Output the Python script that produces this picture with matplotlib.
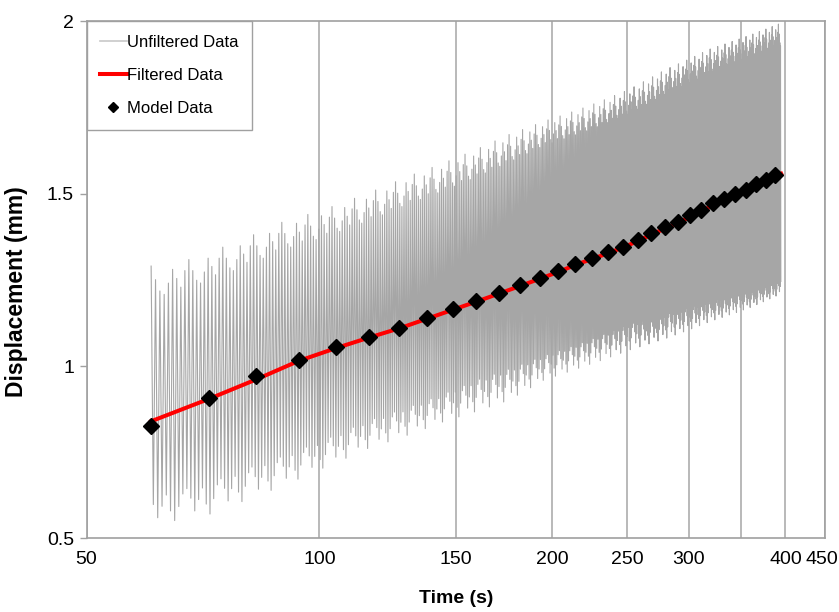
import numpy as np
import matplotlib
matplotlib.use("Agg")
import matplotlib.pyplot as plt
from matplotlib.transforms import ScaledTranslation

FONT = ["Liberation Sans", "DejaVu Sans"]

# raw trace: peak / trough levels of the oscillation over time
env_t = [61, 66, 72, 80, 90, 100, 115, 130, 145, 160, 175, 195, 220, 250, 280, 320, 360, 395]
peak_max = [1.29, 1.30, 1.33, 1.37, 1.42, 1.45, 1.50, 1.55, 1.59, 1.63, 1.67, 1.71, 1.75, 1.80, 1.86, 1.92, 1.96, 1.995]
peak_core = [1.20, 1.22, 1.25, 1.29, 1.34, 1.37, 1.42, 1.47, 1.51, 1.55, 1.59, 1.64, 1.68, 1.73, 1.79, 1.85, 1.89, 1.93]
trough_min = [0.54, 0.555, 0.57, 0.61, 0.655, 0.70, 0.76, 0.80, 0.84, 0.87, 0.90, 0.96, 1.00, 1.045, 1.08, 1.13, 1.17, 1.21]
trough_core = [0.63, 0.64, 0.66, 0.70, 0.74, 0.78, 0.84, 0.88, 0.92, 0.96, 0.99, 1.03, 1.07, 1.12, 1.15, 1.19, 1.22, 1.25]
cycle_s = 0.8
raw_start, raw_end = 60.6, 395.0
# relative reach of successive cycles between core and extreme level
reach = [1.0, 0.55, 0.15, 0.0, 0.35, 0.8, 0.45, 0.1, 0.65]

# filtered displacement
filt_t = [60.6, 72, 83, 94, 105, 116, 127, 138, 149, 160, 171, 182, 193, 204, 215, 226,
          237, 248, 259, 270, 281, 292, 303, 314, 325, 336, 347, 358, 369, 380, 395]
filt_d = [0.840, 0.905, 0.962, 1.015, 1.052, 1.083, 1.110, 1.138, 1.164, 1.188, 1.211,
          1.233, 1.254, 1.274, 1.295, 1.312, 1.329, 1.346, 1.365, 1.384, 1.401, 1.418,
          1.436, 1.453, 1.470, 1.484, 1.497, 1.511, 1.526, 1.540, 1.558]

# model prediction
model_t = [60.6, 71.9, 82.8, 94.0, 104.9, 115.8, 126.7, 137.7, 148.7, 159.3, 170.6, 181.4,
           192.5, 203.1, 214.2, 225.3, 236.0, 247.0, 257.7, 268.1, 279.4, 290.4, 301.0,
           311.6, 322.6, 332.9, 343.9, 355.4, 366.5, 377.5, 388.1]
model_d = [0.825, 0.907, 0.971, 1.017, 1.056, 1.085, 1.111, 1.140, 1.166, 1.190, 1.213,
           1.235, 1.256, 1.275, 1.297, 1.314, 1.330, 1.346, 1.365, 1.385, 1.402, 1.419,
           1.437, 1.454, 1.472, 1.485, 1.498, 1.511, 1.527, 1.540, 1.555]

xticks = [50, 100, 150, 200, 250, 300, 350, 400, 450]
xlabels = ["50", "100", "150", "200", "250", "300", "", "400", "450"]
yticks = [0.5, 1.0, 1.5, 2.0]
ylabels = ["0.5", "1", "1.5", "2"]

# build the zig-zag trace from the peak/trough levels
half_t = np.arange(raw_start, raw_end, cycle_s / 2)
k = np.arange(len(half_t))
cyc = k // 2
r_hi = np.array(reach)[cyc % len(reach)]
r_lo = np.array(reach)[(cyc + 4) % len(reach)]
hc = np.interp(half_t, env_t, peak_core)
lc = np.interp(half_t, env_t, trough_core)
hi = hc + r_hi * (np.interp(half_t, env_t, peak_max) - hc)
lo = lc - r_lo * (lc - np.interp(half_t, env_t, trough_min))
raw_d = np.where(k % 2 == 0, hi, lo)

fig = plt.figure(figsize=(8.39, 6.12), dpi=100)
ax = fig.add_axes([0.1031, 0.1201, 0.8802, 0.8451])

ax.plot(half_t, raw_d, color="#a6a6a6", lw=0.8, label="Unfiltered Data", zorder=2)
ax.plot(filt_t, filt_d, color="#ff0000", lw=2.9, label="Filtered Data", zorder=3)
ax.plot(model_t, model_d, ls="none", marker="D", ms=8.5, color="black", label="Model Data", zorder=4)

ax.set_xscale("log")
ax.set_xlim(50, 450)
ax.set_ylim(0.5, 2.0)
ax.xaxis.set_major_locator(plt.FixedLocator(xticks))
ax.xaxis.set_minor_locator(plt.NullLocator())
ax.set_xticklabels(xlabels)
ax.set_yticks(yticks)
ax.set_yticklabels(ylabels)
ax.grid(axis="x", color="#a6a6a6", lw=1.1)
ax.set_axisbelow(True)

for s in ax.spines.values():
    s.set_color("#a0a0a0")
    s.set_linewidth(1.2)
ax.tick_params(axis="x", length=0, pad=9)
ax.tick_params(axis="y", length=5, width=1, color="#a0a0a0", pad=4)
for lab in ax.get_xticklabels() + ax.get_yticklabels():
    lab.set_family(FONT)
    lab.set_fontsize(14)
# keep the last x label inside the canvas
last = ax.get_xticklabels()[-1]
last.set_transform(last.get_transform() + ScaledTranslation(-2.5 / 72, 0, fig.dpi_scale_trans))

ax.set_xlabel("Time (s)", family=FONT, fontsize=14, fontweight="bold", labelpad=16)
ax.set_ylabel("Displacement (mm)", family=FONT, fontsize=16.5, fontweight="bold")
ax.yaxis.set_label_coords(-0.079, 0.477)

leg = ax.legend(loc="upper left", borderaxespad=0, fancybox=False, framealpha=1,
                edgecolor="#a0a0a0", prop={"family": FONT, "size": 12},
                handlelength=1.6, handletextpad=0.05, labelspacing=1.1,
                borderpad=0.8, markerscale=0.6)
leg.get_frame().set_linewidth(1.0)
leg.legend_handles[0].set_color("#c8c8c8")
leg.legend_handles[0].set_linewidth(1.2)

fig.savefig("out.png", dpi=100)
